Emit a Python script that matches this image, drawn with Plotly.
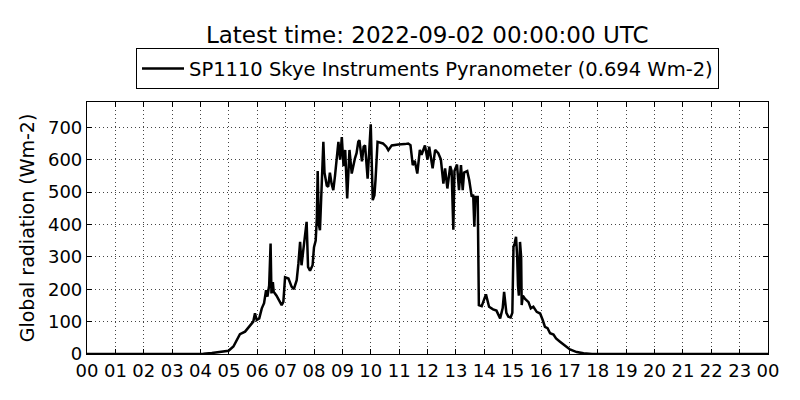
import plotly.graph_objects as go

# Pyranometer readings, 2022-09-01 (hour of day, Wm-2)
hours = [0.0, 3.9, 4.1, 4.4, 4.7, 4.99, 5.16, 5.27, 5.39, 5.57, 5.74, 5.86, 5.92, 5.98,
         6.07, 6.16, 6.24, 6.31, 6.36, 6.42, 6.47, 6.50, 6.55, 6.58, 6.68, 6.78, 6.86,
         6.92, 6.98, 7.10, 7.21, 7.29, 7.39, 7.45, 7.51, 7.56, 7.63, 7.68, 7.74, 7.79,
         7.86, 7.95, 8.00, 8.06, 8.10, 8.13, 8.17, 8.21, 8.27, 8.33, 8.37, 8.39, 8.45,
         8.50, 8.56, 8.62, 8.68, 8.74, 8.80, 8.86, 8.92, 8.98, 9.04, 9.10, 9.17, 9.25,
         9.33, 9.39, 9.44, 9.50, 9.56, 9.60, 9.69, 9.75, 9.80, 9.89, 10.00, 10.07, 10.13,
         10.17, 10.24, 10.43, 10.55, 10.62, 10.74, 10.97, 11.03, 11.20, 11.32, 11.40,
         11.48, 11.55, 11.64, 11.73, 11.79, 11.91, 12.00, 12.06, 12.18, 12.27, 12.38,
         12.47, 12.56, 12.62, 12.70, 12.80, 12.85, 12.91, 12.95, 13.04, 13.11, 13.18,
         13.24, 13.29, 13.40, 13.47, 13.56, 13.61, 13.65, 13.69, 13.77, 13.81, 13.91,
         14.06, 14.17, 14.31, 14.43, 14.56, 14.65, 14.70, 14.78, 14.85, 14.93, 14.99,
         15.03, 15.07, 15.12, 15.16, 15.19, 15.22, 15.26, 15.30, 15.32, 15.36, 15.44,
         15.56, 15.64, 15.73, 15.85, 15.97, 16.06, 16.14, 16.23, 16.32, 16.44, 16.53,
         16.67, 16.85, 17.02, 17.26, 17.50, 17.80, 24.0]
radiation = [0, 0, 1, 3, 7, 10, 23, 43, 61, 69, 86, 100, 126, 105,
             110, 141, 157, 197, 177, 212, 341, 187, 222, 192, 180, 161, 151,
             161, 237, 233, 208, 200, 228, 279, 346, 274, 326, 376, 408, 269,
             257, 274, 330, 350, 420, 565, 400, 382, 537, 655, 560, 547, 520,
             516, 560, 526, 506, 550, 600, 655, 600, 670, 580, 630, 480, 630,
             557, 590, 603, 620, 655, 660, 595, 640, 644, 541, 709, 475, 490,
             540, 655, 650, 640, 629, 644, 647, 647, 648, 650, 645,
             583, 597, 557, 630, 615, 644, 600, 640, 573, 630, 620,
             601, 526, 573, 511, 580, 565, 384, 565, 585, 506, 583,
             506, 560, 565, 537, 485, 492, 393, 485, 485, 151, 148,
             184, 146, 138, 134, 110, 142, 192, 127, 115, 113, 127,
             331, 341, 362, 300, 210, 180, 346, 300, 151, 180, 170,
             160, 141, 146, 130, 125, 105, 84, 80, 64, 60, 48,
             38, 25, 14, 6, 2, 0, 0]

tick_hours = list(range(25))
tick_labels = [f"{h % 24:02d}" for h in tick_hours]
y_ticks = [0, 100, 200, 300, 400, 500, 600, 700]

fig = go.Figure()
fig.add_trace(go.Scatter(x=hours, y=radiation, mode="lines",
                         line=dict(color="black", width=2.5),
                         name="SP1110 Skye Instruments Pyranometer (0.694 Wm-2)"))

axis_style = dict(showline=True, linecolor="black", linewidth=1.2, mirror="ticks",
                  ticks="inside", ticklen=5, tickcolor="black",
                  showgrid=True, gridcolor="#444", gridwidth=1, griddash="1px,3px",
                  zeroline=False, automargin=False,
                  tickfont=dict(size=18, color="black"))

fig.update_xaxes(range=[0, 24], tickvals=tick_hours, ticktext=tick_labels, **axis_style)
fig.update_yaxes(range=[0, 778], tickvals=y_ticks,
                 title=dict(text="Global radiation (Wm-2)", font=dict(size=19, color="black"), standoff=8),
                 **axis_style)

fig.update_layout(
    width=800, height=400,
    margin=dict(l=87, r=32, t=102, b=46),
    paper_bgcolor="white", plot_bgcolor="white",
    font=dict(family="DejaVu Sans", color="black"),
    title=dict(text="Latest time: 2022-09-02 00:00:00 UTC", x=0.534, xanchor="center",
               y=0.912, yanchor="middle", font=dict(size=23, color="black")),
    showlegend=True,
    legend=dict(x=0.5, xanchor="center", y=1.05, yanchor="bottom", xref="paper",
                bordercolor="black", borderwidth=1, bgcolor="white", itemwidth=42,
                font=dict(size=19.5, color="black")),
)

fig.write_html("out.html", config={"displayModeBar": False},
               post_script="document.body.style.margin='0px';")
